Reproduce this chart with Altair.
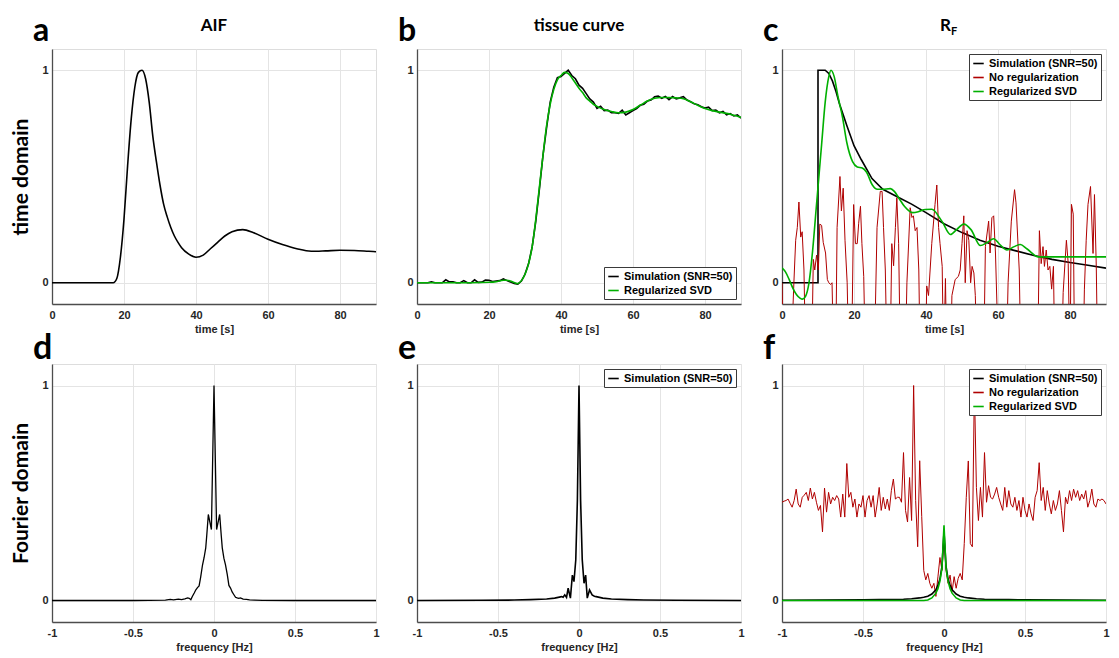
import altair as alt
import pandas as pd

# ---------------- data ----------------
NAMES = ["Simulation (SNR=50)", "No regularization", "Regularized SVD"]
COLORS = ["#000000", "#b00000", "#00b000"]

# a: AIF (time domain)
AIF_T = [0, 17, 18, 19, 20, 21, 22, 23, 24, 25, 26, 27, 28, 29, 30, 31, 32, 33, 34, 35, 36, 38, 40,
         42, 44, 46, 48, 50, 53, 56, 60, 64, 68, 72, 76, 80, 84, 88, 90]
AIF_V = [0, 0, 0.02, 0.12, 0.3, 0.55, 0.77, 0.92, 0.99, 1.0, 0.96, 0.85, 0.69, 0.57, 0.46, 0.37, 0.31,
         0.26, 0.22, 0.19, 0.165, 0.135, 0.12, 0.13, 0.16, 0.19, 0.22, 0.24, 0.25, 0.235, 0.205,
         0.18, 0.16, 0.148, 0.15, 0.153, 0.152, 0.148, 0.146]

# b: tissue curve
TIS_T = list(range(0, 91))
TIS_SIM = [0, 0, 0, 0, 0.004, 0, 0, 0, 0.014, 0.004,
           0.005, 0, 0, 0.01, 0, 0, 0.014, 0.002, 0.003, 0.013,
           0.012, 0.006, 0.008, 0.01, 0.018, 0.01, 0.003, -0.003, -0.006, 0.008,
           0.04, 0.09, 0.17, 0.29, 0.44, 0.6, 0.73, 0.85, 0.92, 0.965,
           0.97, 0.985, 1.0, 0.975, 0.96, 0.93, 0.915, 0.89, 0.865, 0.85,
           0.82, 0.83, 0.81, 0.812, 0.8, 0.8, 0.797, 0.812, 0.79, 0.8,
           0.81, 0.82, 0.835, 0.84, 0.855, 0.86, 0.875, 0.878, 0.868, 0.877,
           0.862, 0.876, 0.865, 0.87, 0.876, 0.86, 0.852, 0.842, 0.838, 0.828,
           0.822, 0.826, 0.81, 0.812, 0.8, 0.806, 0.79, 0.796, 0.785, 0.79,
           0.775]
TIS_GT = [0, 5, 10, 15, 20, 22, 24, 25, 26, 28, 29, 30, 31, 32, 33, 34, 35, 36, 37, 38, 39, 40, 41,
          42, 43, 44, 45, 46, 47, 48, 49, 50, 52, 54, 56, 58, 60, 62, 64, 66, 68, 70, 72, 74, 76,
          78, 80, 82, 84, 86, 88, 90]
TIS_SVD = [0, 0, 0, 0, 0.002, 0.005, 0.012, 0.012, 0.008, -0.004, 0.01, 0.04, 0.09, 0.17, 0.3,
           0.45, 0.6, 0.74, 0.84, 0.91, 0.955, 0.975, 0.99, 0.985, 0.965, 0.94, 0.915, 0.895,
           0.87, 0.855, 0.84, 0.83, 0.815, 0.806, 0.8, 0.803, 0.815, 0.835, 0.855, 0.868,
           0.872, 0.872, 0.87, 0.866, 0.852, 0.835, 0.82, 0.81, 0.803, 0.797, 0.788, 0.778]

# c: R_F (time domain)
RF_T = [0, 10, 10, 11, 12, 13, 14, 15, 16, 17, 18, 20, 22, 25, 28, 32, 36, 40, 45, 50, 55, 60,
        65, 70, 75, 80, 85, 90]
RF_V = [0, 0, 1, 1, 1.0, 0.985, 0.95, 0.9, 0.84, 0.79, 0.74, 0.645, 0.58, 0.49, 0.44, 0.405,
        0.37, 0.33, 0.278, 0.236, 0.2, 0.172, 0.15, 0.128, 0.11, 0.095, 0.082, 0.069]
RF_NR_T = [0, 0.5, 2.4, 3.3, 3.8, 4.25, 4.7, 5.2, 5.6, 6.1, 6.6, 8.2, 8.7, 9.1, 9.6, 10.1, 10.5,
           11.0, 11.45, 12.1, 12.6, 13.0, 13.5, 13.9, 14.4, 14.9, 15.3, 16.1, 16.5, 17.0, 17.5,
           18.1, 18.6, 19.3, 19.9, 20.4, 20.9, 21.3, 21.8, 22.2, 22.7, 23.2, 25.6, 26.4, 27.3,
           27.8, 28.2, 28.7, 29.2, 30.0, 30.5, 31.0, 31.5, 31.9, 32.4, 32.9, 34.2, 34.7, 35.6,
           36.1, 36.5, 37.0, 37.5, 38.0, 38.4, 39.8, 40.2, 40.7, 41.6, 42.5, 43.0, 43.5, 43.9,
           44.5, 44.9, 45.4, 45.8, 46.8, 47.2, 48.1, 49.0, 49.5, 50.0, 50.5, 50.9, 51.4, 51.9,
           52.4, 52.8, 53.3, 53.7, 54.2, 56.0, 56.5, 57.4, 57.8, 58.3, 58.8, 59.3, 60.2, 62.3,
           62.8, 63.7, 64.6, 65.0, 65.9, 66.4, 71.0, 71.5, 72.0, 72.5, 72.9, 73.4, 73.9, 74.4,
           74.9, 75.4, 75.8, 77.6, 78.1, 78.6, 79.0, 79.5, 80.0, 80.4, 80.9, 81.3, 83.6, 84.0,
           84.5, 85.0, 85.7, 86.4, 86.8, 87.3, 87.7, 90]
RF_NR_V = [0.0, -0.4, -0.4, 0.0, 0.2, 0.26, 0.38, 0.215, 0.24, 0.06, -0.4, -0.4, 0.11, 0.06, 0.13,
           0.06, 0.276, 0.27, 0.19, 0.14, 0.015, 0.0, -0.008, 0.0, -0.4, -0.4, 0.26, 0.5, 0.338,
           0.445, 0.2, 0.0, -0.4, -0.4, 0.368, 0.184, 0.184, 0.28, 0.36, 0.184, 0.03, -0.4, -0.4,
           0.26, 0.43, 0.43, 0.26, 0.06, -0.4, -0.4, 0.184, 0.08, 0.26, 0.4, 0.184, -0.4, -0.4,
           0.0, 0.353, 0.307, 0.315, 0.245, 0.26, 0.06, -0.4, -0.4, -0.015, -0.06, 0.184, 0.368,
           0.46, 0.26, 0.184, 0.077, -0.4, 0.02, -0.4, -0.4, -0.06, 0.015, 0.03, 0.06, 0.185,
           0.315, 0.0, 0.245, 0.2, 0.0, 0.077, 0.046, -0.06, -0.4, -0.4, 0.17, 0.29, 0.14, 0.306,
           0.315, 0.14, -0.4, -0.4, 0.0, 0.29, 0.438, 0.376, 0.06, -0.4, -0.4, 0.245, 0.09, 0.17,
           0.077, 0.154, 0.06, 0.077, -0.03, 0.077, -0.4, -0.4, -0.046, 0.092, 0.2, 0.092, -0.4,
           0.369, 0.323, -0.4, -0.4, -0.03, 0.2, 0.369, 0.453, 0.138, 0.415, 0.077, -0.4, -0.4]
RF_SVD_T = [0, 1, 2, 3, 4, 5, 5.7, 6.5, 7.5, 8.5, 9.5, 10.2, 11, 12, 13, 13.6, 14.5, 15.5, 16.8,
            18, 19.6, 20.9, 22.3, 23.5, 25.1, 26.5, 27.8, 30.1, 31.2, 32.4, 34, 36.3, 38, 39.8,
            41.6, 44.4, 46.8, 48.5, 50.5, 52.5, 55.1, 57, 58.8, 60.5, 62.5, 64.5, 66.2, 68, 71.2,
            80, 90]
RF_SVD_V = [0.07, 0.05, 0.015, -0.025, -0.055, -0.072, -0.077, -0.065, 0.0, 0.15, 0.35, 0.49,
            0.65, 0.85, 0.97, 1.0, 0.97, 0.88, 0.78, 0.66, 0.57, 0.545, 0.54, 0.52, 0.46, 0.44,
            0.44, 0.443, 0.43, 0.4, 0.36, 0.33, 0.335, 0.345, 0.346, 0.29, 0.227, 0.25, 0.276,
            0.25, 0.175, 0.19, 0.207, 0.18, 0.154, 0.17, 0.18, 0.16, 0.122, 0.122, 0.122]

# d: AIF spectrum
D_F = [-1, -0.5, -0.3, -0.27, -0.25, -0.22, -0.2, -0.18, -0.163, -0.153, -0.143, -0.133, -0.122,
       -0.112, -0.102, -0.092, -0.082, -0.071, -0.061, -0.051, -0.045, -0.035, -0.016, 0, 0.016,
       0.035, 0.045, 0.051, 0.061, 0.071, 0.082, 0.092, 0.102, 0.112, 0.122, 0.133, 0.143, 0.153,
       0.163, 0.18, 0.2, 0.22, 0.25, 0.3, 0.5, 1]
D_V = [0, 0, 0.002, 0.005, 0.003, 0.006, 0.004, 0.008, 0.012, 0.01, 0.004, 0.02, 0.035, 0.05,
       0.06, 0.068, 0.11, 0.165, 0.2, 0.245, 0.3, 0.4, 0.33, 1.0, 0.33, 0.4, 0.3, 0.245, 0.197,
       0.166, 0.12, 0.07, 0.058, 0.04, 0.028, 0.015, 0.012, 0.01, 0.012, 0.006, 0.005, 0.003,
       0.002, 0.001, 0, 0]

# e: tissue spectrum
E_F = [-1, -0.6, -0.4, -0.3, -0.2, -0.15, -0.108, -0.098, -0.088, -0.077, -0.067, -0.053, -0.041,
       -0.031, -0.02, -0.01, 0, 0.01, 0.02, 0.031, 0.041, 0.051, 0.065, 0.081, 0.095, 0.106,
       0.147, 0.2, 0.3, 0.4, 0.6, 1]
E_V = [0, 0.001, 0.002, 0.004, 0.007, 0.011, 0.018, 0.015, 0.026, 0.014, 0.057, 0.011, 0.118,
       0.088, 0.188, 0.465, 1.0, 0.465, 0.19, 0.08, 0.118, 0.011, 0.049, 0.026, 0.02, 0.018,
       0.011, 0.007, 0.004, 0.002, 0.001, 0]

# f: R_F spectrum
F_SMOOTH_F = [-1, -0.75, -0.5, -0.4, -0.3, -0.25, -0.2, -0.15, -0.125, -0.1, -0.075, -0.05,
              -0.0375, -0.025, -0.0125, 0, 0.0125, 0.025, 0.0375, 0.05, 0.075, 0.1, 0.125, 0.15,
              0.2, 0.25, 0.3, 0.4, 0.5, 0.75, 1]
F_SIM = [0.001, 0.002, 0.003, 0.004, 0.005, 0.006, 0.008, 0.012, 0.015, 0.02, 0.03, 0.05, 0.07,
         0.1, 0.16, 0.32, 0.16, 0.1, 0.07, 0.05, 0.03, 0.02, 0.015, 0.012, 0.008, 0.006, 0.005,
         0.004, 0.003, 0.002, 0.001]
F_SVD = [0, 0, 0, 0, 0, 0, 0, 0, 0, 0.002, 0.012, 0.034, 0.055, 0.09, 0.15, 0.35, 0.15, 0.09,
         0.055, 0.034, 0.012, 0.002, 0, 0, 0, 0, 0, 0, 0, 0, 0]
F_NR_F = [round(-1 + 0.0125 * k, 4) for k in range(161)]
F_NR_V = [0.457, 0.462, 0.465, 0.472, 0.452, 0.434, 0.465, 0.518, 0.449, 0.434,
          0.48, 0.49, 0.503, 0.465, 0.523, 0.472, 0.503, 0.457, 0.419, 0.442,
          0.319, 0.523, 0.411, 0.503, 0.449, 0.48, 0.465, 0.488, 0.472, 0.388,
          0.495, 0.388, 0.637, 0.48, 0.503, 0.434, 0.472, 0.388, 0.449, 0.434,
          0.488, 0.388, 0.465, 0.488, 0.434, 0.488, 0.388, 0.449, 0.526, 0.419,
          0.48, 0.426, 0.472, 0.419, 0.511, 0.565, 0.472, 0.48, 0.48, 0.457,
          0.688, 0.419, 0.365, 0.572, 0.372, 1.0,
          0.465, 0.25, 0.65, 0.39, 0.14, 0.096, 0.126, 0.08, 0.057, 0.08, 0.019, 0.11, 0.2, 0.14,
          0.31,
          0.142, 0.08, 0.118, 0.042, 0.111, 0.057, 0.103, 0.126, 0.096, 0.265,
          0.48, 0.649, 0.265, 0.25, 1.0, 0.526, 0.372, 0.526, 0.388, 0.688,
          0.457, 0.534, 0.48, 0.472, 0.495, 0.526, 0.48, 0.449, 0.419, 0.526,
          0.434, 0.511, 0.449, 0.434, 0.48, 0.419, 0.465, 0.388, 0.48, 0.419,
          0.388, 0.449, 0.403, 0.372, 0.48, 0.511, 0.641, 0.465, 0.526, 0.419,
          0.511, 0.449, 0.403, 0.465, 0.419, 0.449, 0.511, 0.419, 0.319, 0.48,
          0.449, 0.511, 0.465, 0.518, 0.48, 0.511, 0.465, 0.495, 0.472, 0.511,
          0.434, 0.465, 0.518, 0.449, 0.434, 0.472, 0.465, 0.472, 0.465, 0.449]

TIME_TICKS = [0, 20, 40, 60, 80]
FREQ_TICKS = [-1, -0.5, 0, 0.5, 1]

# ---------------- styling ----------------
W = 324
H_TOP, H_BOT = 255, 258
LFONT = "Liberation Sans"
TFONT = "Lato"
LABEL_COLOR = "#262626"


def frame(xs, ys, name):
    return pd.DataFrame({"x": xs, "y": ys, "s": name, "i": list(range(len(xs)))})


def panel(series, xdom, xticks, xtitle, ytitle, names, legend_orient, letter, title, sub=None,
          top=True):
    colors = [COLORS[NAMES.index(n)] for n in names]
    xaxis = alt.Axis(values=xticks, title=xtitle, grid=True, gridColor="#e4e4e4", ticks=False,
                     domainColor="#4d4d4d", domainWidth=1.3, labelFont=LFONT,
                     labelFontWeight="bold", labelFontSize=11, labelColor=LABEL_COLOR,
                     labelPadding=5, labelFlush=False, titleFont=LFONT, titleFontWeight="bold",
                     titleFontSize=11, titleColor=LABEL_COLOR, titlePadding=3,
                     labelExpr="datum.value < 0 ? '-' + format(-datum.value, '') : format(datum.value, '')")
    yaxis = alt.Axis(values=[0, 1], format="d", grid=True, gridColor="#e4e4e4", ticks=False,
                     domainColor="#4d4d4d", domainWidth=1.3, labelFont=LFONT,
                     labelFontWeight="bold", labelFontSize=11, labelColor=LABEL_COLOR,
                     labelPadding=4, labelFlush=False,
                     title=ytitle if ytitle else None, titleFont=TFONT, titleFontWeight="bold",
                     titleFontSize=21, titleColor="#000000", titlePadding=10)
    if legend_orient:
        legend = alt.Legend(title=None, orient=legend_orient, offset=5, strokeColor="#3a3a3a",
                            fillColor="white", padding=3, symbolType="stroke", symbolSize=110,
                            symbolStrokeWidth=1.6, labelFont=LFONT, labelFontWeight="bold",
                            labelFontSize=11, labelColor="#000000", rowPadding=2,
                            labelLimit=400, labelOffset=4)
    else:
        legend = None
    layers = []
    for df, width, interp in series:
        layers.append(
            alt.Chart(df).mark_line(strokeWidth=width, clip=True, interpolate=interp).encode(
                x=alt.X("x:Q", scale=alt.Scale(domain=xdom, nice=False, zero=False), axis=xaxis),
                y=alt.Y("y:Q", scale=alt.Scale(domain=[-0.1, 1.1], nice=False, zero=False),
                        axis=yaxis),
                color=alt.Color("s:N", scale=alt.Scale(domain=names, range=colors),
                                legend=legend),
                order=alt.Order("i:Q"),
            )
        )
    if top:
        lsize, ly = 32, -33
    else:
        lsize, ly = 34, -32
    layers.append(
        alt.Chart(pd.DataFrame({"t": [letter]})).mark_text(
            font=TFONT, fontWeight="bold", fontSize=lsize, align="left", baseline="top",
            color="#000000").encode(text="t:N", x=alt.value(-19), y=alt.value(ly))
    )
    if title:
        if sub:
            layers.append(
                alt.Chart(pd.DataFrame({"t": [title]})).mark_text(
                    font=TFONT, fontWeight="bold", fontSize=17, align="right",
                    baseline="top", color="#000000").encode(
                    text="t:N", x=alt.value(W / 2 + 7), y=alt.value(-31))
            )
            layers.append(
                alt.Chart(pd.DataFrame({"t": [sub]})).mark_text(
                    font=TFONT, fontWeight="bold", fontSize=11, align="left",
                    baseline="top", color="#000000").encode(
                    text="t:N", x=alt.value(W / 2 + 7), y=alt.value(-23))
            )
        else:
            layers.append(
                alt.Chart(pd.DataFrame({"t": [title]})).mark_text(
                    font=TFONT, fontWeight="bold", fontSize=17, align="center",
                    baseline="top", color="#000000").encode(
                    text="t:N", x=alt.value(W / 2), y=alt.value(-31))
            )
    return alt.layer(*layers).properties(width=W, height=H_TOP if top else H_BOT)


S, R, G = NAMES

pa = panel([(frame(AIF_T, AIF_V, S), 1.6, "monotone")], [0, 90], TIME_TICKS, "time [s]",
           "time domain", [S], None, "a", "AIF")
pb = panel([(frame(TIS_T, TIS_SIM, S), 1.6, "linear"),
            (frame(TIS_GT, TIS_SVD, G), 1.6, "monotone")], [0, 90], TIME_TICKS, "time [s]",
           None, [S, G], "bottom-right", "b", "tissue curve")
pc = panel([(frame(RF_T, RF_V, S), 1.6, "linear"),
            (frame(RF_NR_T, RF_NR_V, R), 1.0, "linear"),
            (frame(RF_SVD_T, RF_SVD_V, G), 1.6, "monotone")], [0, 90], TIME_TICKS, "time [s]",
           None, [S, R, G], "top-right", "c", "R", sub="F")
pd_ = panel([(frame(D_F, D_V, S), 1.3, "linear")], [-1, 1], FREQ_TICKS, "frequency [Hz]",
            "Fourier domain", [S], None, "d", None, top=False)
pe = panel([(frame(E_F, E_V, S), 1.6, "linear")], [-1, 1], FREQ_TICKS, "frequency [Hz]",
           None, [S], "top-right", "e", None, top=False)
pf = panel([(frame(F_NR_F, F_NR_V, R), 1.0, "linear"),
            (frame(F_SMOOTH_F, F_SIM, S), 1.6, "linear"),
            (frame(F_SMOOTH_F, F_SVD, G), 1.6, "linear")], [-1, 1], FREQ_TICKS,
           "frequency [Hz]", None, [S, R, G], "top-right", "f", None, top=False)

chart = alt.concat(pa, pb, pc, pd_, pe, pf, columns=3, spacing={"row": 60, "column": 41},
                   bounds="flush").resolve_scale(
    color="independent", x="independent", y="independent").resolve_legend(
    color="independent").properties(padding={"left": 2, "top": 6, "right": 0, "bottom": 0}
).configure_view(stroke=None).configure(background="white")

chart.save("out.html", embed_options={"renderer": "svg", "actions": False})
